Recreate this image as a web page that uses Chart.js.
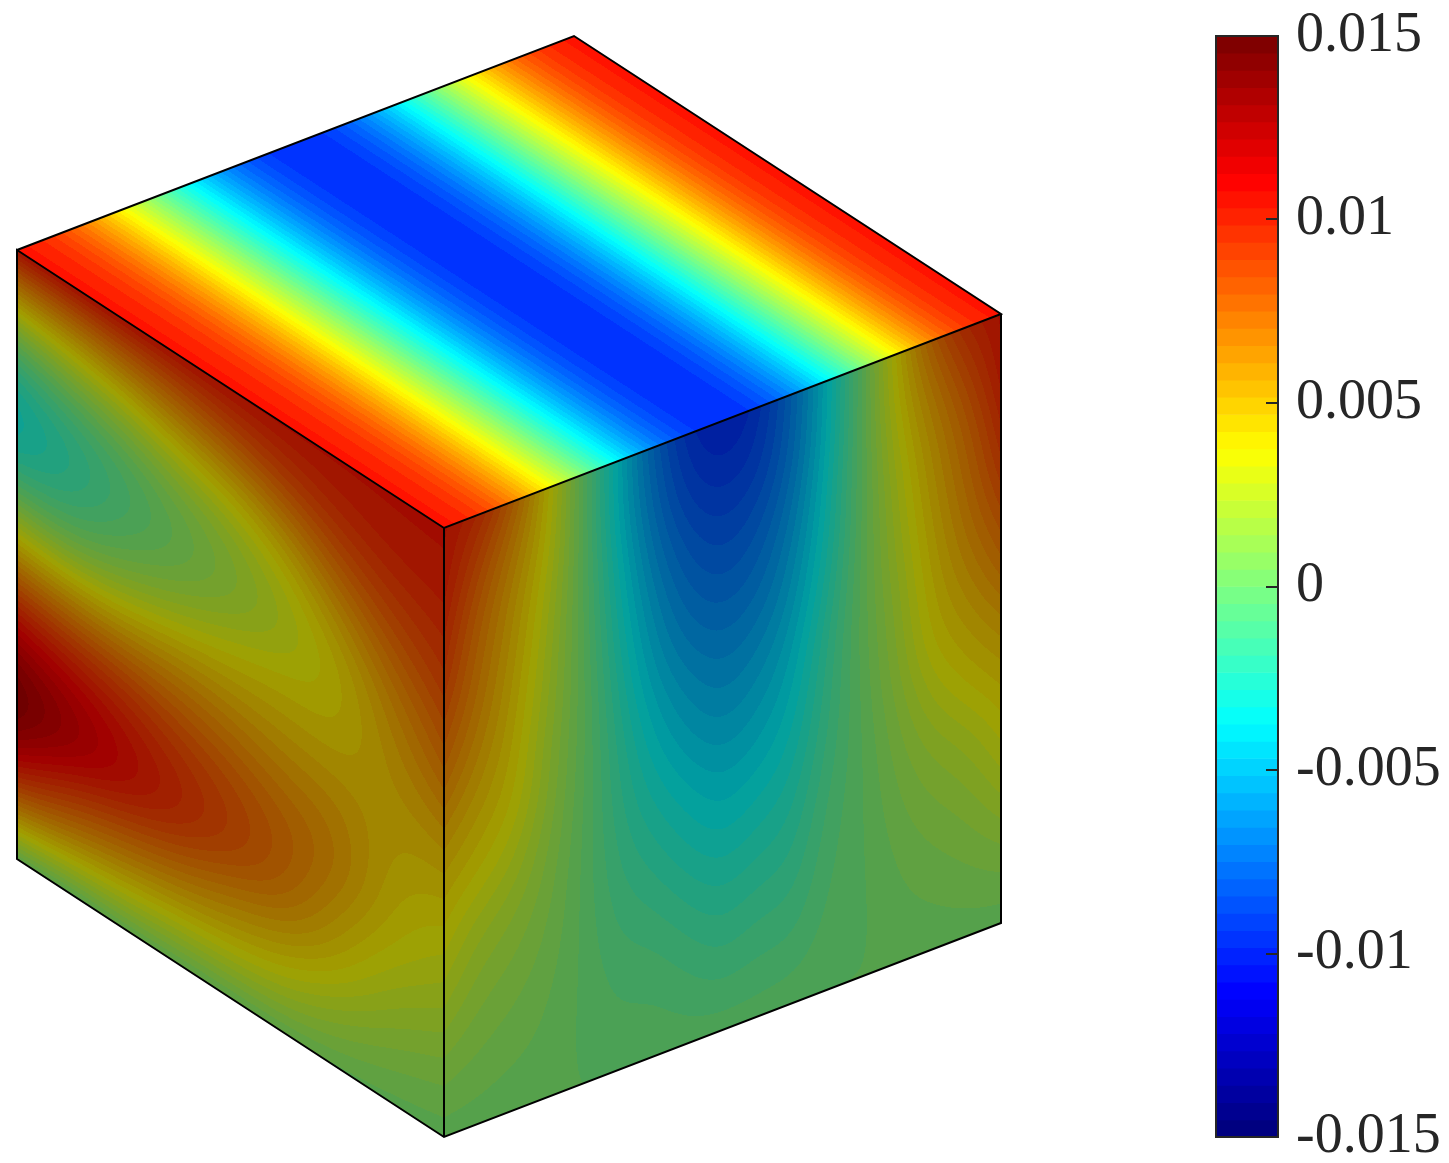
<!DOCTYPE html>
<html>
<head>
<meta charset="utf-8">
<title>cube</title>
<script src="https://cdn.jsdelivr.net/npm/chart.js@4/dist/chart.umd.js"></script>
<style>
	html, body { margin: 0; background: #fff; }
	canvas { display: block; }
</style>
</head>
<body>
<canvas id="myChart" width="1449" height="1163"></canvas>
<script>
// values, one array per column, top of the face to the bottom
const topValues = [0.0106, 0.0097, 0.0073, 0.0039, 0.0000, -0.0039, -0.0072, -0.0093, -0.0101, -0.0093, -0.0072, -0.0039, 0.0000, 0.0039, 0.0073, 0.0097, 0.0106];

const leftColumns = [
	[0.0104, 0.0048, -0.0005, -0.0033, -0.0028, 0.0008, 0.0052, 0.0095, 0.0127, 0.0141, 0.0114, 0.0064, 0.0005],
	[0.0104, 0.0052, 0.0008, -0.0020, -0.0020, 0.0003, 0.0048, 0.0088, 0.0116, 0.0124, 0.0090, 0.0053, 0.0002],
	[0.0104, 0.0060, 0.0018, -0.0008, -0.0006, 0.0014, 0.0048, 0.0084, 0.0104, 0.0110, 0.0080, 0.0046, 0.0005],
	[0.0104, 0.0068, 0.0032, 0.0006, 0.0004, 0.0024, 0.0054, 0.0076, 0.0093, 0.0098, 0.0072, 0.0040, 0.0004],
	[0.0104, 0.0078, 0.0041, 0.0018, 0.0015, 0.0034, 0.0052, 0.0070, 0.0084, 0.0085, 0.0060, 0.0038, 0.0004],
	[0.0104, 0.0088, 0.0058, 0.0033, 0.0026, 0.0039, 0.0050, 0.0062, 0.0074, 0.0073, 0.0054, 0.0032, 0.0005],
	[0.0104, 0.0096, 0.0078, 0.0056, 0.0039, 0.0038, 0.0048, 0.0060, 0.0064, 0.0052, 0.0040, 0.0020, 0.0004],
	[0.0104, 0.0101, 0.0090, 0.0076, 0.0062, 0.0054, 0.0049, 0.0046, 0.0042, 0.0036, 0.0024, 0.0012, 0.0003],
	[0.0104, 0.0102, 0.0095, 0.0088, 0.0078, 0.0068, 0.0055, 0.0045, 0.0036, 0.0028, 0.0018, 0.0009, 0.0002]
];

const rightColumns = [
	[0.0104, 0.0102, 0.0095, 0.0088, 0.0078, 0.0068, 0.0055, 0.0045, 0.0036, 0.0028, 0.0018, 0.0009, 0.0002],
	[0.0095, 0.0082, 0.0072, 0.0067, 0.0062, 0.0054, 0.0046, 0.0038, 0.0026, 0.0018, 0.0012, 0.0007, 0.0002],
	[0.0073, 0.0060, 0.0053, 0.0049, 0.0045, 0.0042, 0.0038, 0.0029, 0.0020, 0.0014, 0.0009, 0.0005, 0.0001],
	[0.0039, 0.0037, 0.0031, 0.0027, 0.0024, 0.0020, 0.0018, 0.0014, 0.0011, 0.0008, 0.0005, 0.0003, 0.0001],
	[0.0000, 0.0000, 0.0001, 0.0001, 0.0002, 0.0002, 0.0001, 0.0000, -0.0001, -0.0001, -0.0001, -0.0001, 0.0000],
	[-0.0039, -0.0039, -0.0034, -0.0030, -0.0026, -0.0022, -0.0019, -0.0017, -0.0014, -0.0011, -0.0007, -0.0004, -0.0001],
	[-0.0072, -0.0068, -0.0062, -0.0055, -0.0049, -0.0042, -0.0035, -0.0028, -0.0021, -0.0014, -0.0008, -0.0004, -0.0001],
	[-0.0093, -0.0088, -0.0079, -0.0071, -0.0063, -0.0054, -0.0046, -0.0037, -0.0029, -0.0021, -0.0013, -0.0007, -0.0002],
	[-0.0101, -0.0093, -0.0085, -0.0077, -0.0068, -0.0060, -0.0052, -0.0043, -0.0035, -0.0026, -0.0018, -0.0010, -0.0002],
	[-0.0093, -0.0089, -0.0080, -0.0072, -0.0064, -0.0055, -0.0047, -0.0039, -0.0030, -0.0022, -0.0014, -0.0008, -0.0002],
	[-0.0072, -0.0070, -0.0064, -0.0057, -0.0051, -0.0044, -0.0038, -0.0032, -0.0026, -0.0020, -0.0014, -0.0008, -0.0001],
	[-0.0039, -0.0038, -0.0034, -0.0031, -0.0026, -0.0019, -0.0016, -0.0013, -0.0009, -0.0006, -0.0004, -0.0002, 0.0000],
	[0.0000, 0.0000, 0.0001, 0.0001, 0.0002, 0.0002, 0.0001, 0.0000, -0.0001, -0.0001, -0.0001, -0.0001, 0.0000],
	[0.0039, 0.0037, 0.0031, 0.0027, 0.0024, 0.0020, 0.0018, 0.0014, 0.0011, 0.0008, 0.0005, 0.0003, 0.0001],
	[0.0073, 0.0060, 0.0053, 0.0049, 0.0045, 0.0042, 0.0038, 0.0029, 0.0020, 0.0014, 0.0009, 0.0005, 0.0001],
	[0.0095, 0.0082, 0.0072, 0.0067, 0.0062, 0.0054, 0.0046, 0.0038, 0.0026, 0.0018, 0.0012, 0.0007, 0.0002],
	[0.0104, 0.0102, 0.0095, 0.0088, 0.0078, 0.0068, 0.0055, 0.0045, 0.0036, 0.0028, 0.0018, 0.0009, 0.0002]
];

const colorbarTicks = [-0.015, -0.01, -0.005, 0, 0.005, 0.01, 0.015];
const colorbarLabels = ['-0.015', '-0.01', '-0.005', '0', '0.005', '0.01', '0.015'];
const colorLevels = 64;

// layout of the cube, in x / y axis units
const cubeFront = [444, 528];
const cubeLeft = [17, 250];
const cubeRight = [1001, 314];
const cubeBack = [574, 36];
const cubeHeight = 609;
const SIDE_SHADE = 0.63;
const TICK_COLOR = '#262626';

function clamp01(a) {
	return Math.max(0, Math.min(1, a));
}

/** jet colormap, level is 0..colorLevels-1 */
function jet(level) {
	const t = level / (colorLevels - 1);
	return [
		clamp01(Math.min(4 * t - 1.5, -4 * t + 4.5)) * 255,
		clamp01(Math.min(4 * t - 0.5, -4 * t + 3.5)) * 255,
		clamp01(Math.min(4 * t + 0.5, -4 * t + 2.5)) * 255
	];
}

function levelOf(value) {
	const level = Math.floor(((value + 0.015) / 0.03) * colorLevels);
	return Math.max(0, Math.min(colorLevels - 1, level));
}

/**
 * Builds the nodes of one face as a scatter dataset.
 * @param {number[][]} columns grid values, column by column
 * @param {number[]} origin corner of the first node
 * @param {number[]} sEnd corner reached along the columns
 * @param {number[]} tEnd corner reached along one column
 * @param {number} shade brightness of the face
 */
function faceDataset(columns, origin, sEnd, tEnd, shade) {
	const cols = columns.length;
	const rows = columns[0].length;
	const data = [];
	columns.forEach((column, i) => {
		column.forEach((v, j) => {
			const s = i / (cols - 1);
			const t = j / (rows - 1);
			data.push({
				x: origin[0] + (sEnd[0] - origin[0]) * s + (tEnd[0] - origin[0]) * t,
				y: origin[1] + (sEnd[1] - origin[1]) * s + (tEnd[1] - origin[1]) * t,
				v: v
			});
		});
	});
	return { type: 'scatter', data: data, cols: cols, rows: rows, shade: shade, isFace: true, pointRadius: 0, pointHitRadius: 0, showLine: false };
}

function bspline(a, b, c, d, f) {
	const g = 1 - f;
	return (g * g * g * a + (3 * f * f * f - 6 * f * f + 4) * b + (-3 * f * f * f + 3 * f * f + 3 * f + 1) * c + f * f * f * d) / 6;
}

/** smooth shading of the value grid between its nodes */
function sampleFace(ds, s, t) {
	const fx = s * (ds.cols - 1);
	const fy = t * (ds.rows - 1);
	const i = Math.min(ds.cols - 2, Math.floor(fx));
	const j = Math.min(ds.rows - 2, Math.floor(fy));
	const node = (c, r) => ds.data[c * ds.rows + r].v;
	const inRow = (c, r) => {
		if (r < 0) return 2 * node(c, 0) - node(c, 1);
		if (r >= ds.rows) return 2 * node(c, ds.rows - 1) - node(c, ds.rows - 2);
		return node(c, r);
	};
	const at = (c, r) => {
		if (c < 0) return 2 * inRow(0, r) - inRow(1, r);
		if (c >= ds.cols) return 2 * inRow(ds.cols - 1, r) - inRow(ds.cols - 2, r);
		return inRow(c, r);
	};
	const row = r => bspline(at(i - 1, r), at(i, r), at(i + 1, r), at(i + 2, r), fx - i);
	return bspline(row(j - 1), row(j), row(j + 1), row(j + 2), fy - j);
}

const facePlugin = {
	id: 'facePlugin',
	beforeDatasetsDraw(chart) {
		const { ctx, scales } = chart;
		const px = p => [scales.x.getPixelForValue(p.x), scales.y.getPixelForValue(p.y)];
		chart.data.datasets.filter(ds => ds.isFace).forEach(ds => {
			const p0 = px(ds.data[0]);
			const pT = px(ds.data[ds.rows - 1]);
			const pS = px(ds.data[(ds.cols - 1) * ds.rows]);
			const pE = px(ds.data[ds.cols * ds.rows - 1]);
			const ax = pS[0] - p0[0], ay = pS[1] - p0[1];
			const bx = pT[0] - p0[0], by = pT[1] - p0[1];
			const det = ax * by - ay * bx;
			const xs = [p0[0], pT[0], pS[0], pE[0]];
			const ys = [p0[1], pT[1], pS[1], pE[1]];
			const x0 = Math.floor(Math.min(...xs)) - 1, x1 = Math.ceil(Math.max(...xs)) + 1;
			const y0 = Math.floor(Math.min(...ys)) - 1, y1 = Math.ceil(Math.max(...ys)) + 1;
			const off = document.createElement('canvas');
			off.width = x1 - x0;
			off.height = y1 - y0;
			const offCtx = off.getContext('2d');
			const img = offCtx.createImageData(off.width, off.height);
			for (let y = y0; y < y1; y++) {
				for (let x = x0; x < x1; x++) {
					const dx = x + 0.5 - p0[0], dy = y + 0.5 - p0[1];
					const s = clamp01((dx * by - dy * bx) / det);
					const t = clamp01((ax * dy - ay * dx) / det);
					const c = jet(levelOf(sampleFace(ds, s, t)));
					const k = ((y - y0) * off.width + (x - x0)) * 4;
					img.data[k] = c[0] * ds.shade;
					img.data[k + 1] = c[1] * ds.shade;
					img.data[k + 2] = c[2] * ds.shade;
					img.data[k + 3] = 255;
				}
			}
			offCtx.putImageData(img, 0, 0);
			ctx.save();
			ctx.beginPath();
			ctx.moveTo(p0[0], p0[1]);
			ctx.lineTo(pS[0], pS[1]);
			ctx.lineTo(pE[0], pE[1]);
			ctx.lineTo(pT[0], pT[1]);
			ctx.closePath();
			ctx.clip();
			ctx.drawImage(off, x0, y0);
			ctx.restore();
		});
	},
	afterDatasetsDraw(chart) {
		// frame and inner ticks of the colorbar
		const { ctx, scales } = chart;
		const left = scales.x.getPixelForValue(colorbarLeft);
		const right = scales.x.getPixelForValue(colorbarRight);
		const top = scales.cbar.getPixelForValue(0.015);
		const bottom = scales.cbar.getPixelForValue(-0.015);
		ctx.save();
		ctx.strokeStyle = TICK_COLOR;
		ctx.lineWidth = 2;
		ctx.strokeRect(left, top, right - left, bottom - top);
		colorbarTicks.forEach(tick => {
			const y = Math.round(scales.cbar.getPixelForValue(tick));
			ctx.beginPath();
			ctx.moveTo(right, y);
			ctx.lineTo(right - 12, y);
			ctx.stroke();
		});
		ctx.restore();
	}
};

const colorbarLeft = 1216;
const colorbarRight = 1278;
const colorbarBars = [];
const colorbarColors = [];
for (let i = 0; i < colorLevels; i++) {
	colorbarBars.push({
		x: (colorbarLeft + colorbarRight) / 2,
		y: [-0.015 + (0.03 * i) / colorLevels, -0.015 + (0.03 * (i + 1)) / colorLevels]
	});
	const c = jet(i);
	colorbarColors.push(`rgb(${c[0]},${c[1]},${c[2]})`);
}

const bottomFront = [cubeFront[0], cubeFront[1] + cubeHeight];
const bottomLeft = [cubeLeft[0], cubeLeft[1] + cubeHeight];
const bottomRight = [cubeRight[0], cubeRight[1] + cubeHeight];
const toPoint = p => ({ x: p[0], y: p[1] });
const edgeLine = points => ({
	type: 'scatter',
	data: points.map(toPoint),
	showLine: true,
	borderColor: '#000',
	borderWidth: 2,
	pointRadius: 0,
	pointHitRadius: 0,
	clip: false,
	borderJoinStyle: 'miter'
});

new Chart(document.getElementById('myChart'), {
	type: 'scatter',
	plugins: [facePlugin],
	data: {
		datasets: [
			edgeLine([cubeLeft, cubeBack, cubeRight, cubeFront, cubeLeft, bottomLeft, bottomFront, bottomRight, cubeRight]),
			edgeLine([cubeFront, bottomFront]),
			faceDataset(topValues.map(v => [v, v]), cubeFront, cubeRight, cubeLeft, 1),
			faceDataset(leftColumns, cubeLeft, cubeFront, bottomLeft, SIDE_SHADE),
			faceDataset(rightColumns, cubeFront, cubeRight, bottomFront, SIDE_SHADE),
			{
				type: 'bar',
				data: colorbarBars,
				yAxisID: 'cbar',
				backgroundColor: colorbarColors,
				barThickness: colorbarRight - colorbarLeft,
				borderWidth: 0
			}
		]
	},
	options: {
		responsive: false,
		animation: false,
		events: [],
		layout: { autoPadding: false, padding: { top: 36, bottom: 26, left: 0, right: 0 } },
		plugins: { legend: { display: false }, tooltip: { enabled: false } },
		scales: {
			x: { type: 'linear', display: false, min: 0, max: 1278, offset: false },
			y: { type: 'linear', display: false, min: 36, max: 1137, reverse: true },
			cbar: {
				type: 'linear',
				position: 'right',
				min: -0.015,
				max: 0.015,
				afterBuildTicks: axis => {
					axis.ticks = colorbarTicks.map(value => ({ value }));
				},
				afterFit: axis => {
					// the big tick labels must not push the plot area in
					axis.width = 171;
					axis.paddingTop = 0;
					axis.paddingBottom = 0;
				},
				grid: { display: false, drawTicks: false },
				border: { display: false },
				ticks: {
					padding: 18,
					autoSkip: false,
					maxRotation: 0,
					color: TICK_COLOR,
					font: { family: '"Liberation Serif"', size: 56 },
					callback: value => colorbarLabels[colorbarTicks.indexOf(value)]
				}
			}
		}
	}
});
</script>
</body>
</html>
